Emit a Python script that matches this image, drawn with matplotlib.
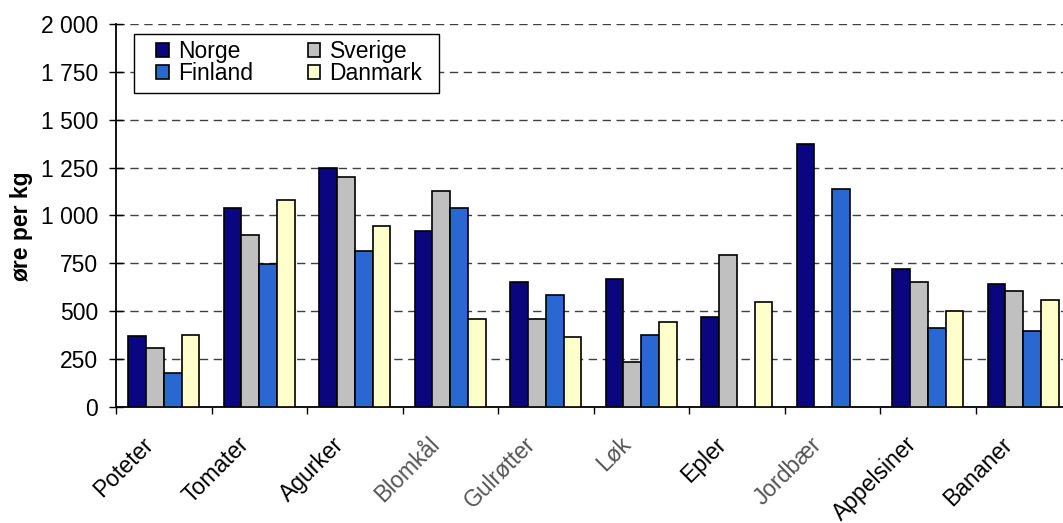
import numpy as np
import matplotlib.pyplot as plt
import matplotlib.transforms as mtransforms
from matplotlib.patches import Rectangle
from matplotlib.ticker import FuncFormatter

plt.rcParams['font.family'] = ['Liberation Sans', 'DejaVu Sans']

# data (øre per kg)
produkter = ['Poteter', 'Tomater', 'Agurker', 'Blomkål', 'Gulrøtter',
             'Løk', 'Epler', 'Jordbær', 'Appelsiner', 'Bananer']
norge = [370, 1040, 1250, 920, 653, 670, 472, 1373, 719, 642]
sverige = [310, 898, 1203, 1126, 461, 233, 794, np.nan, 651, 604]
finland = [176, 745, 813, 1041, 587, 376, np.nan, 1137, 412, 395]
danmark = [376, 1079, 945, 461, 366, 442, 548, np.nan, 500, 557]

land = ['Norge', 'Sverige', 'Finland', 'Danmark']
farger = ['#0a0680', '#c0c0c0', '#2868d0', '#ffffcc']
fs = 16.5

W, H = 1063, 523
fig = plt.figure(figsize=(W / 100, H / 100), dpi=100)
ax = fig.add_axes([116 / W, 116 / H, (1071 - 116) / W, (407 - 24) / H])

x = np.arange(len(produkter))
w = 0.186
bars = []
for i, (serie, c) in enumerate(zip([norge, sverige, finland, danmark], farger)):
    b = ax.bar(x + (i - 1.5) * w, serie, w, color=c, edgecolor='black',
               linewidth=1.2, label=land[i], zorder=3)
    bars.append(b)

ax.set_xlim(-0.5, len(produkter) - 0.5)
ax.set_ylim(0, 2000)
ax.set_yticks(np.arange(0, 2001, 250))
ax.yaxis.set_major_formatter(FuncFormatter(lambda v, p: f'{int(v):,}'.replace(',', ' ')))
ax.yaxis.grid(True, linestyle=(0, (6, 4)), color='#404040', linewidth=1, zorder=0)
ax.tick_params(axis='y', direction='inout', length=10, width=1, labelsize=fs, pad=8)

# ticks between categories, labels at centres
ax.set_xticks(np.arange(-0.5, len(produkter), 1))
ax.set_xticklabels([])
ax.set_xticks(x, minor=True)
ax.set_xticklabels(produkter, minor=True, rotation=45, ha='right', va='top',
                   fontsize=fs)
ax.tick_params(axis='x', which='major', direction='out', length=5, width=1)
ax.tick_params(axis='x', which='minor', length=0, pad=18.5)
shift = mtransforms.ScaledTranslation(-6 / 100, 0, fig.dpi_scale_trans)
for t in ax.get_xticklabels(minor=True):
    t.set_transform(t.get_transform() + shift)
    if t.get_text() in ('Blomkål', 'Gulrøtter', 'Løk', 'Jordbær'):
        t.set_color('#555555')

for s in ['top', 'right']:
    ax.spines[s].set_visible(False)
for s in ['left', 'bottom']:
    ax.spines[s].set_color('black')
    ax.spines[s].set_linewidth(1.3)

ax.set_ylabel('øre per kg', fontsize=fs, fontweight='bold')
ax.yaxis.set_label_coords(33 / W, 1 - 227 / H, transform=fig.transFigure)

# legend frame with the wider side padding of the original
fig.add_artist(Rectangle((134 / W, 1 - 93 / H), (439 - 134) / W, (93 - 34) / H,
                         transform=fig.transFigure, facecolor='white',
                         edgecolor='black', linewidth=1, zorder=4))
handles = [bars[0], bars[2], bars[1], bars[3]]
labels = ['Norge', 'Finland', 'Sverige', 'Danmark']
leg = fig.legend(handles, labels, ncol=2, loc='upper left',
                 bbox_to_anchor=(156 / W, 1 - 40 / H), fontsize=fs,
                 frameon=False, handlelength=0.55, handleheight=0.55,
                 handletextpad=0.4, columnspacing=2.4, labelspacing=-0.05,
                 borderpad=0, borderaxespad=0)
leg.set_zorder(5)

fig.savefig('out.png', dpi=100)
